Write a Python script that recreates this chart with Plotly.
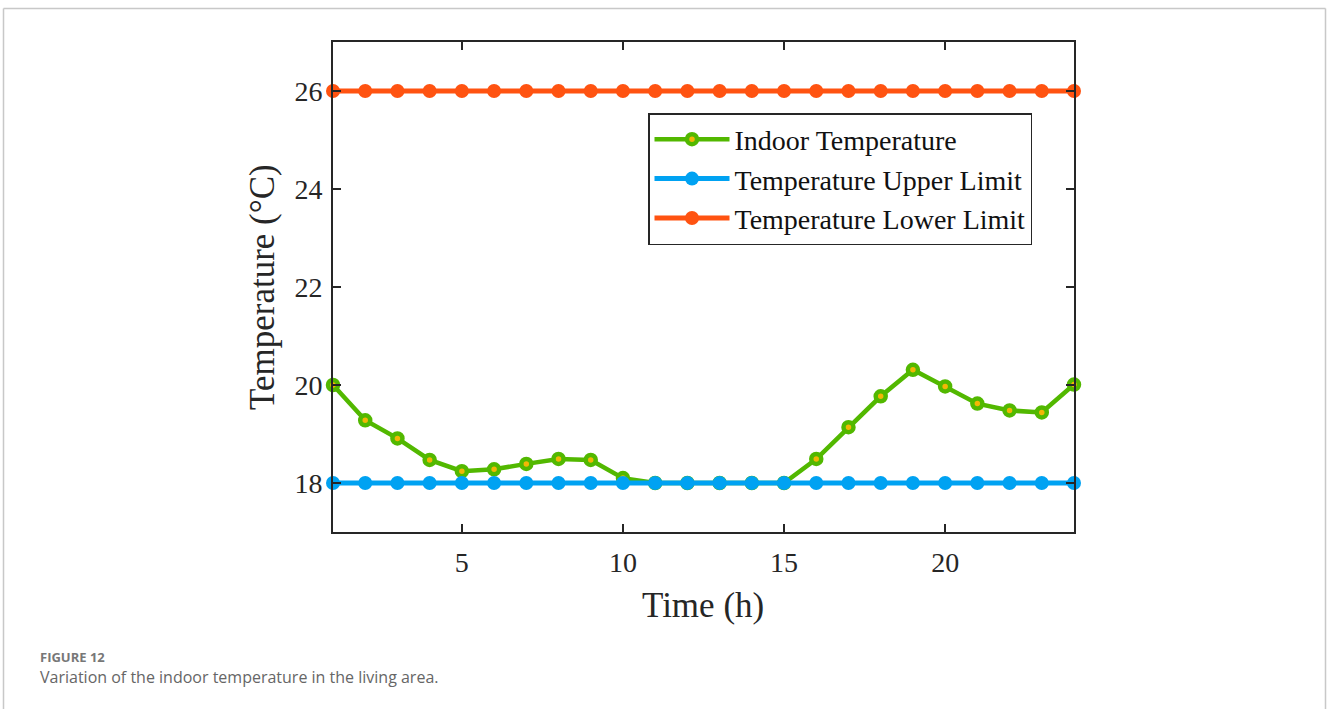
import plotly.graph_objects as go

hours = list(range(1, 25))
indoor_temp = [20.0, 19.28, 18.91, 18.47, 18.24, 18.28, 18.39, 18.49, 18.47, 18.10,
               18.0, 18.0, 18.0, 18.0, 18.0, 18.49, 19.14, 19.77, 20.31, 19.97,
               19.62, 19.48, 19.44, 20.01]
upper_limit = [18.0] * 24
lower_limit = [26.0] * 24
x_ticks = [5, 10, 15, 20]
y_ticks = [18, 20, 22, 24, 26]

W, H = 1327, 709
px = lambda v: v / W
py = lambda v: 1 - v / H

GREEN = "#52B800"
BLUE = "#00A2F2"
ORANGE = "#FF5311"
AX = "#262626"
SERIF = "Liberation Serif, Times New Roman, serif"

fig = go.Figure()
fig.add_trace(go.Scatter(x=hours, y=indoor_temp, name="Indoor Temperature", mode="lines+markers",
                         line=dict(color=GREEN, width=4.5),
                         marker=dict(size=10, color="#F2B705", line=dict(color=GREEN, width=4.5)),
                         cliponaxis=False))
fig.add_trace(go.Scatter(x=hours, y=upper_limit, name="Temperature Upper Limit", mode="lines+markers",
                         line=dict(color=BLUE, width=5),
                         marker=dict(size=14, color=BLUE),
                         cliponaxis=False))
fig.add_trace(go.Scatter(x=hours, y=lower_limit, name="Temperature Lower Limit", mode="lines+markers",
                         line=dict(color=ORANGE, width=5),
                         marker=dict(size=14, color=ORANGE),
                         cliponaxis=False))

axis_common = dict(showgrid=False, zeroline=False, showline=True, linecolor=AX, linewidth=2,
                   mirror="ticks", ticks="inside", ticklen=8, tickwidth=2, tickcolor=AX,
                   tickfont=dict(family=SERIF, size=28, color=AX))
fig.update_xaxes(range=[1, 24], tickvals=x_ticks, domain=[px(333), px(1074)],
                 ticklabelstandoff=4, **axis_common)
fig.update_yaxes(range=[17, 27], tickvals=y_ticks, domain=[py(532), py(42)],
                 ticklabelstandoff=3, **axis_common)

fig.update_layout(
    width=W, height=H, margin=dict(l=0, r=0, t=0, b=0),
    paper_bgcolor="white", plot_bgcolor="white",
    showlegend=True,
    legend=dict(x=px(648), y=py(113), xanchor="left", yanchor="top",
                bgcolor="white", bordercolor=AX, borderwidth=1.5,
                font=dict(family=SERIF, size=28, color="#111"),
                tracegroupgap=0, itemwidth=75),
    annotations=[
        dict(text="Time (h)", x=px(703), y=py(605), xref="paper", yref="paper",
             showarrow=False, font=dict(family=SERIF, size=35, color=AX),
             xanchor="center", yanchor="middle"),
        dict(text="Temperature (°C)", x=px(262), y=py(287), xref="paper", yref="paper",
             showarrow=False, textangle=-90, font=dict(family=SERIF, size=35, color=AX),
             xanchor="center", yanchor="middle"),
        dict(text="<b>FIGURE 12</b>", x=px(38), y=py(657), xref="paper", yref="paper",
             showarrow=False, font=dict(family="Open Sans", size=13, color="#777"),
             xanchor="left", yanchor="middle"),
        dict(text="Variation of the indoor temperature in the living area.", x=px(38), y=py(677),
             xref="paper", yref="paper", showarrow=False,
             font=dict(family="Open Sans", size=16, color="#666"),
             xanchor="left", yanchor="middle"),
    ],
    shapes=[
        dict(type="line", xref="paper", yref="paper", x0=px(3.5), x1=px(1325.5), y0=py(8.5), y1=py(8.5),
             line=dict(color="#C8C8C8", width=1.5)),
        dict(type="line", xref="paper", yref="paper", x0=px(3.5), x1=px(3.5), y0=py(8.5), y1=0,
             line=dict(color="#C8C8C8", width=1.5)),
        dict(type="line", xref="paper", yref="paper", x0=px(1325.5), x1=px(1325.5), y0=py(8.5), y1=0,
             line=dict(color="#C8C8C8", width=1.5)),
    ],
)

fig.write_html("out.html", config={"displayModeBar": False},
               post_script="document.body.style.margin='0';document.body.style.overflow='hidden';")
